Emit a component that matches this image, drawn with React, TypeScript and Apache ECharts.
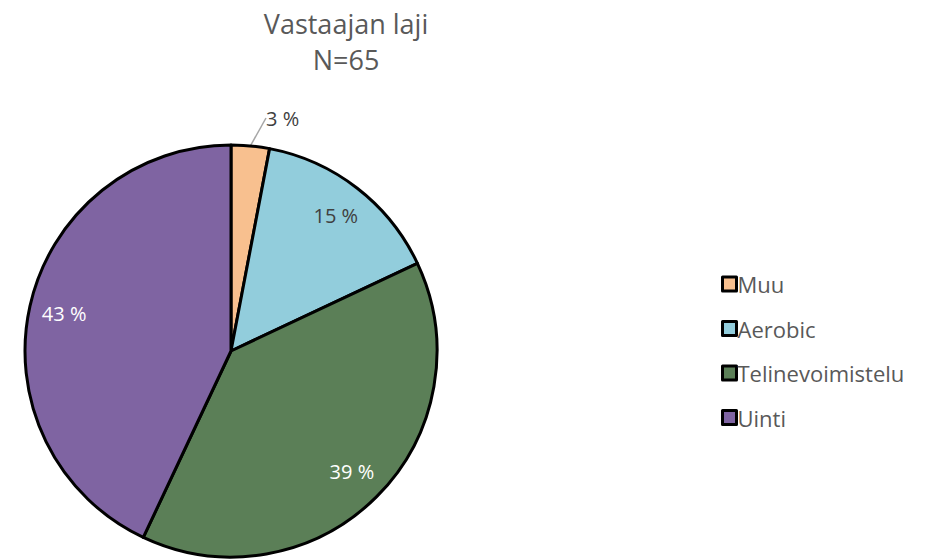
import React, { useEffect, useRef } from "react";
import * as echarts from "echarts";

const categories = ["Muu", "Aerobic", "Telinevoimistelu", "Uinti"];
const values = [3, 15, 39, 43];
const colors = ["#F8C08F", "#92CDDC", "#5B7F57", "#7F64A2"];
const labelColors = ["#404040", "#404040", "#FFFFFF", "#FFFFFF"];
const titleLines = ["Vastaajan laji", "N=65"];

const FONT = "'Open Sans', 'Noto Sans', sans-serif";

export default function App() {
  const ref = useRef<HTMLDivElement>(null);
  useEffect(() => {
    document.body.style.margin = "0";
    const chart = echarts.init(ref.current!, null, { renderer: "svg" });
    const mainData = categories.map((c, i) => ({
      name: c,
      value: values[i],
      itemStyle: { color: colors[i] },
    }));
    const labelData = categories.map((c, i) => ({
      name: c,
      value: values[i],
      label:
        i === 0
          ? { position: "outside", color: labelColors[i] }
          : { position: "inside", color: labelColors[i] },
      labelLine:
        i === 0
          ? { show: true, length: 20, length2: 0, lineStyle: { color: "#A6A6A6", width: 1.5 } }
          : { show: false },
    }));
    const titleStyle = {
      fontFamily: FONT,
      fontSize: 27,
      fontWeight: "normal",
      color: "#595959",
    };
    chart.setOption({
      animation: false,
      title: titleLines.map((t, i) => ({
        text: t,
        left: 346,
        top: 10 + i * 36,
        padding: 0,
        textAlign: "center",
        textStyle: titleStyle,
      })),
      legend: {
        orient: "vertical",
        left: 716,
        top: 268,
        itemGap: 22.5,
        itemWidth: 14,
        itemHeight: 14,
        icon: "rect",
        data: categories,
        itemStyle: { borderColor: "#000", borderWidth: 3 },
        textStyle: { fontFamily: FONT, fontSize: 22, color: "#595959", lineHeight: 21, padding: [0, 0, 0, -4] },
      },
      series: [
        {
          type: "pie",
          center: [231, 351],
          radius: [0, 206],
          startAngle: 90,
          clockwise: true,
          silent: true,
          label: { show: false },
          labelLine: { show: false },
          itemStyle: { borderColor: "#000", borderWidth: 3 },
          data: mainData,
        },
        {
          type: "pie",
          center: [231, 351],
          radius: [130, 206],
          startAngle: 90,
          clockwise: true,
          silent: true,
          itemStyle: { color: "rgba(0,0,0,0)", borderWidth: 0 },
          label: {
            show: true,
            formatter: "{c} %",
            fontFamily: FONT,
            fontSize: 20,
          },
          labelLayout: (p: any) =>
            p.dataIndex === 0 ? { x: 266, y: 118, align: "left", verticalAlign: "middle" } : {},
          legendHoverLink: false,
          data: labelData,
        },
      ],
    });
    return () => chart.dispose();
  }, []);
  return <div ref={ref} style={{ width: 935, height: 560 }} />;
}
